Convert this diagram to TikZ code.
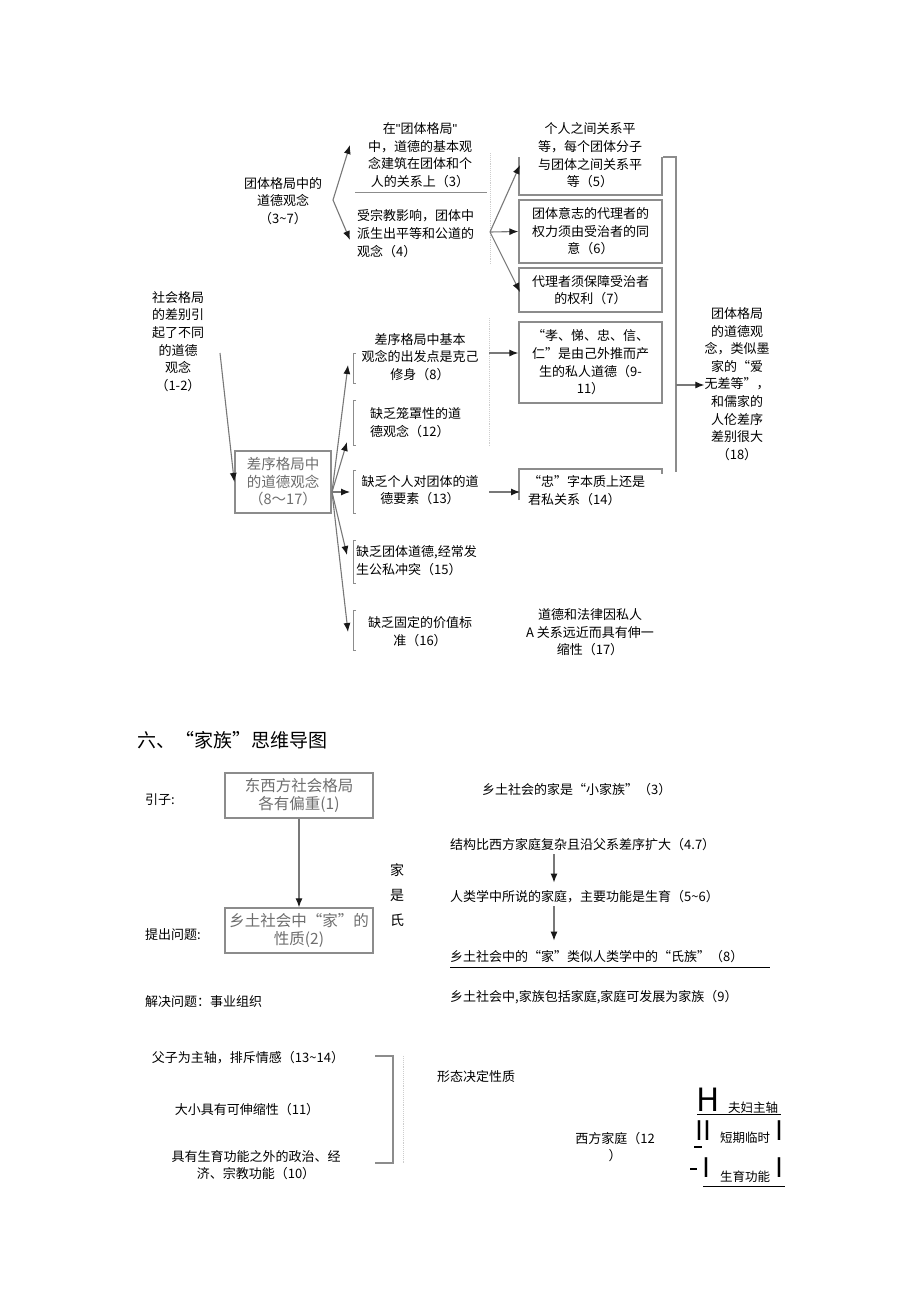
\documentclass[tikz,border=0pt]{standalone}
\usepackage{fontspec}
\setmainfont{Noto Sans CJK SC}
\newfontfamily\latinfont{Liberation Sans}
\usepackage{xcolor}
\definecolor{linegray}{RGB}{120,120,120}
\definecolor{boxgray}{RGB}{140,140,140}
\definecolor{faintgray}{RGB}{205,205,205}
\definecolor{textgray}{RGB}{110,110,110}
\usepackage{tikz}
\usetikzlibrary{arrows.meta, positioning, calc}

\newcommand{\tl}{\textasciitilde}
\newcommand{\sq}{{\latinfont\symbol{"22}}}

\tikzset{
  txt/.style={font=\fontsize{13}{17.6}\selectfont, align=center, inner sep=0pt},
  ltxt/.style={txt, align=left, anchor=west},
  gbox/.style={draw=boxgray, line width=1.4pt},
  boxtxt/.style={gbox, text=textgray, inner sep=0pt, align=center},
  arr/.style={draw=linegray, line width=1.1pt, -{Latex[length=9pt,width=7pt,color=black!90]}},
  tip/.style={-{Latex[length=9pt,width=7pt,color=black!90]}, draw=none},
  faint/.style={draw=faintgray, line width=0.9pt, densely dotted},
  brk/.style={draw=boxgray, line width=1pt},
}

\begin{document}
\begin{tikzpicture}[x=1pt, y=-1pt]
    \fill[white] (0,0) rectangle (920,1301);
    \useasboundingbox (0,0) rectangle (920,1301);

    % ---- upper part
    \node[txt] (root) at (178,341.5) {社会格局\\的差别引\\起了不同\\的道德\\观念\\（1-2）};
    \node[txt] (t37) at (283,201) {团体格局中的\\道德观念\\（3\tl 7）};
    \node[txt] (t3) at (420,155) {在\sq 团体格局\sq\\中，道德的基本观\\念建筑在团体和个\\人的关系上（3）};
    \node[ltxt] (t4) at (357,233.5) {受宗教影响，团体中\\派生出平等和公道的\\观念（4）};
    \draw[boxgray, line width=1pt] (355,192) -- (487,192);

    \draw[faint] (490,153) -- (490,265);
    \draw[faint] (489,318) -- (489,447);

    \coordinate (f1) at (333,200);
    \coordinate (f1a) at (350,145);
    \coordinate (f1b) at (350,240);
    \draw[arr] (f1) -- (f1a);
    \draw[arr] (f1) -- (f1b);

    % boxes on the right
    \draw[gbox] (519,157) -- (519,195) -- (662,195) -- (662,157);
    \node[txt] (t5) at (590,155.5) {个人之间关系平\\等，每个团体分子\\与团体之间关系平\\等（5）};
    \node[gbox, minimum width=143pt, minimum height=63pt, inner sep=0pt] (b6) at (590.5,231.5) {};
    \node[txt] at (b6) {团体意志的代理者的\\权力须由受治者的同\\意（6）};
    \node[gbox, minimum width=143pt, minimum height=44pt, inner sep=0pt] (b7) at (590.5,290) {};
    \node[txt] at (b7) {代理者须保障受治者\\的权利（7）};
    \node[gbox, minimum width=143pt, minimum height=81pt, inner sep=0pt] (b911) at (590.5,362.5) {};
    \node[txt] at (b911) {“孝、悌、忠、信、\\仁”是由己外推而产\\生的私人道德（9-\\11）};
    \draw[gbox] (519,500) -- (519,469) -- (662,469) -- (662,474);
    \node[ltxt] (t14) at (528,490.5) {“忠”字本质上还是\\君私关系（14）};

    \coordinate (f3) at (490,232);
    \draw[arr] (f3) -- (520,165);
    \draw[arr] (f3) -- (b6.west);
    \draw[arr] (f3) -- (520,292);

    % bracket to (18)
    \draw[brk, line width=1.3pt] (663,157) -- (676,157) -- (676,472);
    \node[txt] (t18) at (737,384) {团体格局\\的道德观\\念，类似墨\\家的“爱\\无差等”，\\和儒家的\\人伦差序\\差别很大\\（18）};
    \coordinate (f18) at (676,385);
    \draw[arr] (f18) -- (t18.west |- f18);

    % differential pattern
    \node[boxtxt, minimum width=96pt, minimum height=62pt, font=\fontsize{14.5}{17.5}\selectfont] (d817) at (283,482) {差序格局中\\的道德观念\\（8～17）};
    \coordinate (r0) at (220,353);
    \draw[arr] (r0) -- (d817.west);

    \node[txt] (t8) at (420,357) {差序格局中基本\\观念的出发点是克己\\修身（8）};
    \node[ltxt] (t12) at (370,422.5) {缺乏笼罩性的道\\德观念（12）};
    \node[txt] (t13) at (420,490) {缺乏个人对团体的道\\德要素（13）};
    \node[ltxt] (t15) at (356,560.5) {缺乏团体道德,经常发\\生公私冲突（15）};
    \node[txt] (t16) at (420,631.5) {缺乏固定的价值标\\准（16）};
    \node[txt] (t17) at (590,632.5) {道德和法律因私人\\A 关系远近而具有伸一\\缩性（17）};

    \foreach \ya/\yb in {353/383, 400/445, 470/513, 540/583, 610/650}
        \draw[brk] (356,\ya) -- (353,\ya) -- (353,\yb) -- (356,\yb);

    \coordinate (f2) at (332,492);
    \draw[arr] (f2) -- (348,365);
    \draw[arr] (f2) -- (347,442);
    \draw[arr] (f2) -- (350,492);
    \draw[arr] (f2) -- (347,555);
    \draw[arr] (f2) -- (348,632);

    \coordinate (f8) at (489,353);
    \draw[arr] (f8) -- (b911.west |- f8);
    \coordinate (f13) at (489,492);
    \draw[arr] (f13) -- (520,492);

    % ---- lower part
    \node[anchor=west, inner sep=0pt, font=\fontsize{19}{22}\selectfont] (title) at (137,740) {六、“家族”思维导图};

    \node[ltxt] (yinzi) at (145,800) {引子:};
    \node[ltxt] (tichu) at (145,935) {提出问题:};
    \node[ltxt] (jiejue) at (145,1002) {解决问题：事业组织};

    \node[boxtxt, minimum width=148pt, minimum height=45pt, font=\fontsize{15.5}{18}\selectfont] (q1) at (299,795.5) {东西方社会格局\\各有偏重(1)};
    \node[boxtxt, minimum width=148pt, minimum height=45pt, font=\fontsize{15.5}{18}\selectfont] (q2) at (299,930.5) {乡土社会中“家”的\\性质(2)};
    \draw[arr] (q1) -- (q2);

    \node[txt, font=\fontsize{14}{25}\selectfont] (jia) at (397,895) {家\\是\\氏};

    \node[ltxt] (r3) at (482,790) {乡土社会的家是“小家族”（3）};
    \node[ltxt] (r47) at (450,845) {结构比西方家庭复杂且沿父系差序扩大（4.7）};
    \node[ltxt] (r56) at (450,897) {人类学中所说的家庭，主要功能是生育（5\tl 6）};
    \node[ltxt] (r8) at (450,957) {乡土社会中的“家”类似人类学中的“氏族”（8）};
    \node[ltxt] (r9) at (450,997) {乡土社会中,家族包括家庭,家庭可发展为家族（9）};
    \draw[black, line width=0.8pt] (450,967) -- (770,967);
    \coordinate (ax) at (554,0);
    \draw[arr, shorten <=3pt, shorten >=8pt] (r47.south -| ax) -- (r56.north -| ax);
    \draw[arr, shorten <=3pt, shorten >=10pt] (r56.south -| ax) -- (r8.north -| ax);

    \node[txt] (s1314) at (248,1058) {父子为主轴，排斥情感（13\tl 14）};
    \node[txt] (s11) at (247,1110) {大小具有可伸缩性（11）};
    \node[txt] (s10) at (256,1165) {具有生育功能之外的政治、经\\济、宗教功能（10）};
    \draw[brk, line width=1.2pt] (375,1056) -- (393,1056) -- (393,1163) -- (375,1163);
    \draw[faint] (403,1056) -- (403,1163);
    \coordinate (k1) at (407,1086);
    \coordinate (k2) at (407,1137);
    \draw[tip] (k1) -- ++(-12,0);
    \draw[tip] (k2) -- ++(-12,0);
    \node[ltxt] (xingtai) at (437,1077) {形态决定性质};

    \node[txt] (xifang) at (615,1147) {西方家庭（12\\）};

    \node[inner sep=0pt, font=\fontsize{32}{32}\selectfont] (gH) at (708,1100) {H};
    \node[ltxt, font=\fontsize{12.5}{15}\selectfont] (gfu) at (728,1108) {夫妇主轴};
    \draw[black, line width=0.8pt] (697,1114) -- (781,1114);
    \node[inner sep=0pt, font=\fontsize{27}{27}\selectfont] (gII) at (703,1131) {II};
    \draw[black, line width=1.6pt] (694,1147) -- (702,1147);
    \node[ltxt, font=\fontsize{12.5}{15}\selectfont] (gdq) at (720,1138) {短期临时};
    \node[inner sep=0pt, font=\fontsize{27}{27}\selectfont] (gI1) at (779,1131) {I};
    \draw[black, line width=2pt] (690,1169) -- (697,1169);
    \node[inner sep=0pt, font=\fontsize{27}{27}\selectfont] (gI2) at (706,1168) {I};
    \node[ltxt, font=\fontsize{12.5}{15}\selectfont] (gsy) at (720,1177) {生育功能};
    \node[inner sep=0pt, font=\fontsize{27}{27}\selectfont] (gI3) at (779,1168) {I};
    \draw[black, line width=0.8pt] (703,1186) -- (785,1186);
\end{tikzpicture}
\end{document}
